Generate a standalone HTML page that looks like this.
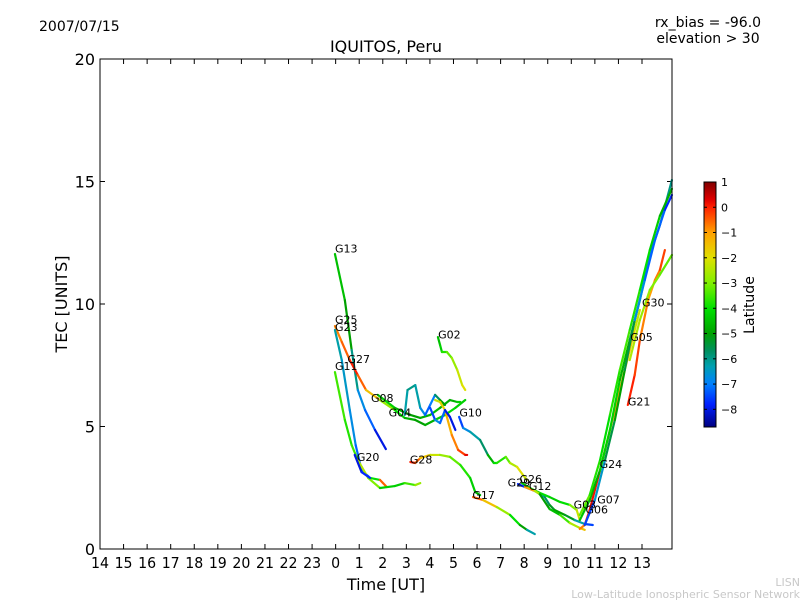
<!DOCTYPE html>
<html><head><meta charset="utf-8"><style>
body{margin:0;background:#fff;width:800px;height:600px;overflow:hidden;font-family:"DejaVu Sans","Liberation Sans",sans-serif}
svg{display:block}
</style></head><body>
<svg id="chart" width="800" height="600" xmlns="http://www.w3.org/2000/svg">
<defs>
<linearGradient id="jet" x1="0" y1="1" x2="0" y2="0"></linearGradient>
</defs>
<text x="39" y="31" font-size="14">2007/07/15</text>
<text x="708" y="27" font-size="14" text-anchor="middle">rx_bias = -96.0</text>
<text x="708" y="43" font-size="14" text-anchor="middle">elevation &gt; 30</text>
<text x="386" y="52" font-size="16" text-anchor="middle">IQUITOS, Peru</text>
<text x="386" y="590" font-size="16" text-anchor="middle">Time [UT]</text>
<text transform="translate(67,304) rotate(-90)" font-size="16" text-anchor="middle">TEC [UNITS]</text>
<text x="800" y="586" font-size="11" fill="#c8c8c8" text-anchor="end">LISN</text>
<text x="800" y="598" font-size="11" fill="#c8c8c8" text-anchor="end">Low-Latitude Ionospheric Sensor Network</text>
<g id="ticks"></g>
<g id="series"></g>
<g id="labels"></g>
<rect x="100" y="59" width="572" height="490" fill="none" stroke="#000" stroke-width="1"/>
<rect x="704" y="182" width="12" height="245" fill="url(#jet)" stroke="#000" stroke-width="1"/>
<g id="cbticks"></g>
<text transform="translate(754,305) rotate(-90)" font-size="14" text-anchor="middle">Latitude</text>
</svg>
<script>
const xTicks=[14,15,16,17,18,19,20,21,22,23,24,25,26,27,28,29,30,31,32,33,34,35,36,37];
const yTicks=[0,5,10,15,20];
const cbTicks=[1,0,-1,-2,-3,-4,-5,-6,-7,-8];
const G13={name:"G13",t:[23.97,24.39,24.68,24.94,25.25,25.67,26.13],v:[12.04,10.16,8.12,6.49,5.67,4.86,4.08],lat:[-4.5,-4.5,-5.5,-6.5,-7,-7.5,-8.5]};
const G25={name:"G25",t:[23.97,24.26,24.6,24.94,25.29,25.88,26.51,26.93,27.37,27.8,28.22,28.64,29.08,29.5],v:[9.1,8.45,7.71,7.1,6.49,6.08,5.67,5.35,5.27,5.06,5.27,5.47,5.76,6.08],lat:[-0.5,-1,0,0,-1,-2,-3.5,-4.5,-5,-5,-4.5,-4,-4,-4.5]};
const G23={name:"G23",t:[23.97,24.26,24.6,24.85,25.1,25.46,25.88,26.17],v:[8.94,7.71,5.67,4.24,3.22,2.9,2.82,2.53],lat:[-6,-6.5,-6.5,-7,-7.5,-7,-1,0]};
const G11={name:"G11",t:[23.97,24.39,24.68,24.94,25.38,25.88,26.51,26.93,27.38,27.59],v:[7.22,5.27,4.24,3.63,2.9,2.49,2.57,2.69,2.61,2.69],lat:[-3.5,-3.5,-4,-3,-2,-4,-4.5,-4,-3,-2.5]};
const G20={name:"G20",t:[24.81,25.1,25.46],v:[3.84,3.14,2.9],lat:[-8,-8,-7.5]};
const G08={name:"G08",t:[25.79,26.51,27.17,27.59,28.01,28.43,28.85,29.16,29.29],v:[6.29,5.76,5.47,5.35,5.47,5.76,6.08,6.0,6.0],lat:[-4,-4.5,-5,-5,-4.5,-4.5,-5,-4.5,-4]};
const G04={name:"G04",t:[26.93,27.05,27.38,27.59,27.8,28.01,28.22,28.43,28.64],v:[5.47,6.49,6.69,5.76,5.47,5.88,6.29,6.08,5.88],lat:[-6.5,-6,-6,-6.5,-7,-7.5,-6.5,-5,-5]};
const G02={name:"G02",t:[28.34,28.43,28.51,28.72,28.93,29.16,29.37,29.5],v:[8.65,8.33,8.04,8.04,7.8,7.31,6.69,6.49],lat:[-4.5,-4.5,-4,-3.5,-3,-2.5,-2,-2]};
const G32={name:"",t:[28.22,28.43,28.64,28.93,29.2,29.5,29.58],v:[6.08,6.0,5.67,4.65,4.04,3.84,3.84],lat:[-2.5,-2,-1.5,-1,-0.5,0,0.5]};
const G09={name:"",t:[28.01,28.22,28.43,28.64,28.85,29.08],v:[5.76,5.27,5.14,5.67,5.39,4.86],lat:[-8,-7,-6.5,-8,-8,-8]};
const G10={name:"G10",t:[29.24,29.41,29.71,30.13,30.46,30.71,30.84,31.22,31.4,31.7,31.95,32.12],v:[5.39,4.94,4.78,4.45,3.84,3.51,3.51,3.76,3.51,3.35,3.02,2.82],lat:[-8,-7,-6.5,-6,-5.5,-4,-4,-3.5,-3,-2,-2,-2.5]};
const G28={name:"G28",t:[27.17,27.38,27.59,28.01,28.43,28.85,29.29,29.71,29.92,30.13],v:[3.55,3.51,3.71,3.84,3.84,3.76,3.43,2.9,2.33,2.2],lat:[0,0,-1,-2,-2.5,-3,-3.5,-4,-4.5,-5]};
const G17={name:"G17",t:[29.83,30.25,30.84,31.4,31.82,32.12,32.45],v:[2.12,2.0,1.71,1.39,0.98,0.78,0.61],lat:[0,-1,-2,-3.5,-4.5,-5.5,-7]};
const G29={name:"G29",t:[31.74,32.03,32.45,32.87,33.08,33.29,33.73,34.15,34.57,34.91],v:[2.65,2.53,2.37,2.12,1.8,1.59,1.39,1.18,1.02,0.98],lat:[-8,-7.5,-6.5,-6,-5.5,-5,-5,-5.5,-7,-8]};
const G26={name:"G26",t:[31.91,32.24,32.66,33.08,33.52,33.94,34.23,34.36],v:[2.69,2.49,2.29,2.12,1.92,1.8,1.59,1.18],lat:[-5,-4,-4,-4,-4.5,-3.5,-2.5,-2]};
const G12={name:"G12",t:[32.03,32.45,32.66,33.08,33.52,33.94,34.36,34.57],v:[2.53,2.37,2.24,1.63,1.39,1.06,0.86,0.78],lat:[-2,0,-5,-5,-4,-3,-2,-1]};
const G07={name:"G07",t:[34.36,34.57,34.78,35.0,35.22,35.43,35.64,35.85,36.06,36.27,36.48,36.69,36.91],v:[0.82,0.98,1.59,2.41,3.22,4.04,4.86,5.67,6.49,7.31,8.12,8.94,9.76],lat:[-1.5,0,0,0.3,0,-0.5,-1,-1,-1,-1.5,-1.5,-2,-2.5]};
const G24={name:"G24",t:[34.36,34.78,35.22,35.64,36.06,36.48,36.91,37.33,37.76,38.27],v:[1.18,2.0,3.22,4.86,6.9,8.53,10.16,11.99,13.22,15.06],lat:[-4,-5,-4.5,-4,-4.5,-5,-6,-7,-7,-5]};
const G06={name:"G06",t:[34.57,35.0,35.43,35.85,36.27,36.69,37.12,37.55,37.97,38.27],v:[0.98,2.0,3.63,5.27,7.31,9.35,10.98,12.61,13.84,14.45],lat:[-8,-7,-6,-5,-5,-6,-7.5,-7,-7.5,-8]};
const G03={name:"G03",t:[34.36,34.78,35.22,35.64,36.06,36.48,36.91,37.33,37.76,38.27],v:[1.39,2.2,3.63,5.47,7.31,8.94,10.57,12.2,13.6,14.7],lat:[-3,-3.5,-4,-4,-3.5,-3.5,-4,-4,-4.5,-5]};
const G21={name:"G21",t:[36.4,36.69,36.91,37.26,37.55,37.76,37.97],v:[5.88,7.1,8.53,10.16,10.98,11.39,12.2],lat:[0,0,-0.5,-1,-1,-0.5,0]};
const G05={name:"G05",t:[36.48,36.91,37.33,37.76,38.27],v:[7.71,9.35,10.57,11.2,12.0],lat:[-2.5,-2.5,-3,-3,-3.5]};
const traces=[G13,G25,G23,G11,G20,G08,G04,G02,G32,G09,G10,G28,G17,G29,G26,G12,G07,G24,G06,G03,G21,G05];
const tLabels=[[23.97,12.1,"G13"],[23.97,9.2,"G25"],[23.97,8.9,"G23"],[23.97,7.3,"G11"],[24.5,7.6,"G27"],[25.5,6.0,"G08"],[26.25,5.4,"G04"],[28.35,8.6,"G02"],[29.25,5.4,"G10"],[24.9,3.6,"G20"],[27.15,3.5,"G28"],[29.8,2.05,"G17"],[31.3,2.55,"G29"],[31.8,2.7,"G26"],[32.2,2.4,"G12"],[34.1,1.65,"G03"],[34.6,1.45,"G06"],[35.1,1.85,"G07"],[35.2,3.3,"G24"],[36.4,5.85,"G21"],[36.5,8.5,"G05"],[37.0,9.9,"G30"]];
const cmapLat=[1,0.3,0,-1,-2,-3,-4,-5,-5.7,-6.3,-7,-7.8,-8.7];
const cmapCol=[[128,0,0],[224,0,0],[255,32,0],[255,160,0],[224,224,0],[128,240,0],[0,224,0],[0,160,0],[0,144,96],[0,160,176],[0,128,255],[0,32,255],[0,0,128]];
const X0=100,X1=672,Y0=549,Y1=59,PXH=23.565;
const xs=t=>X0+(t-14)*PXH;
const ys=v=>Y0-v*(Y0-Y1)/20;
const cbY=l=>427-(l+8.7)*245/9.7;
function jet(l){l=Math.max(-8.7,Math.min(1,l));
for(let i=0;i<cmapLat.length-1;i++){const a=cmapLat[i],b=cmapLat[i+1];
if(l<=a&&l>=b){const f=(a-l)/(a-b);const c=cmapCol[i].map((x,k)=>Math.round(x+(cmapCol[i+1][k]-x)*f));return `rgb(${c[0]},${c[1]},${c[2]})`;}}
return 'rgb(0,0,128)';}
const NS="http://www.w3.org/2000/svg";
function mk(tag,attrs,parent){const e=document.createElementNS(NS,tag);for(const k in attrs)e.setAttribute(k,attrs[k]);parent.appendChild(e);return e;}
const grad=document.getElementById('jet');
for(let i=cmapLat.length-1;i>=0;i--){mk('stop',{offset:((cmapLat[i]+8.7)/9.7).toFixed(4),'stop-color':`rgb(${cmapCol[i].join(',')})`},grad);}
const tk=document.getElementById('ticks');
xTicks.forEach(h=>{const x=xs(h);
const l=mk('line',{x1:x,y1:Y0,x2:x,y2:Y0-5,stroke:'#000'},tk);


mk('line',{x1:x,y1:Y1,x2:x,y2:Y1+5,stroke:'#000'},tk);
const t=mk('text',{x:x,y:568,'font-size':15,'text-anchor':'middle',textLength:(h%24)>=10?18:9,lengthAdjust:'spacingAndGlyphs'},tk);
t.textContent=String(h%24);

});
yTicks.forEach(v=>{const y=ys(v);
mk('line',{x1:X0,y1:y,x2:X0+5,y2:y,stroke:'#000'},tk);
mk('line',{x1:X1,y1:y,x2:X1-5,y2:y,stroke:'#000'},tk);
const t=mk('text',{x:95,y:y+6,'font-size':16,'text-anchor':'end'},tk);
t.textContent=v;

});
const sg=document.getElementById('series');
traces.forEach(tr=>{const g=mk('g',{},sg);


for(let i=0;i<tr.t.length-1;i++){
mk('line',{x1:xs(tr.t[i]),y1:ys(tr.v[i]),x2:xs(tr.t[i+1]),y2:ys(tr.v[i+1]),stroke:jet((tr.lat[i]+tr.lat[i+1])/2),'stroke-width':2.2,'stroke-linecap':'round'},g);}});
const lg=document.getElementById('labels');
tLabels.forEach(a=>{const t=mk('text',{x:xs(a[0]),y:ys(a[1]),'font-size':11},lg);
t.textContent=a[2];

});
const cb=document.getElementById('cbticks');
cbTicks.forEach(l=>{const y=cbY(l);
mk('line',{x1:704,y1:y,x2:707,y2:y,stroke:'#000'},cb);
mk('line',{x1:716,y1:y,x2:713,y2:y,stroke:'#000'},cb);
const t=mk('text',{x:721,y:y+4,'font-size':11},cb);
t.textContent=l<0?'\u2212'+(-l):String(l);

});
</script>
</body></html>
